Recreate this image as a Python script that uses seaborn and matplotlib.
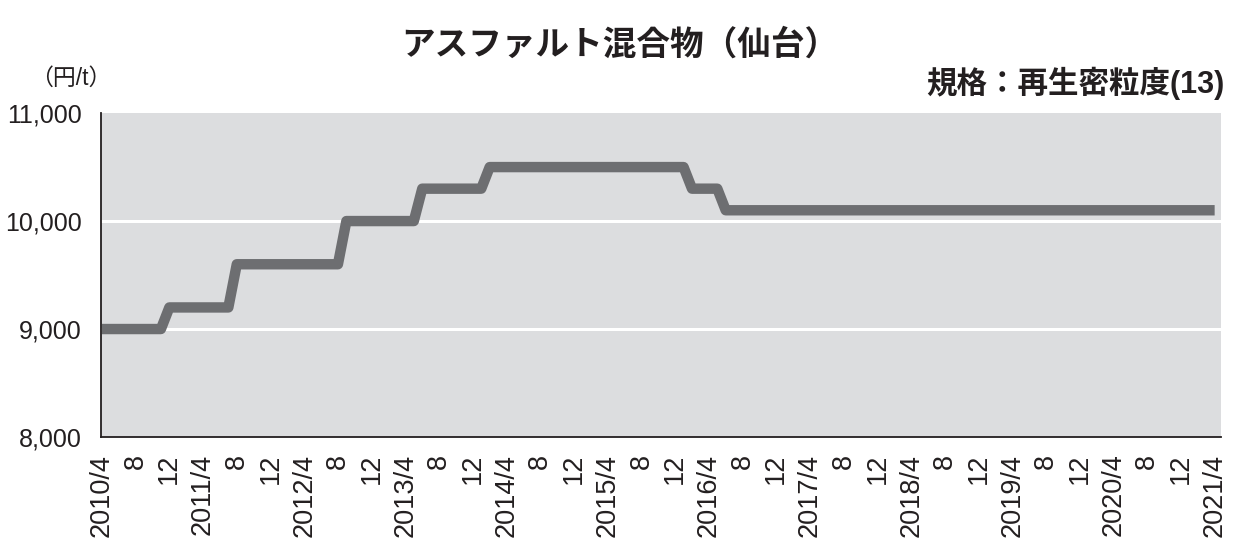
import pandas as pd
import matplotlib
matplotlib.use("Agg")
import matplotlib.pyplot as plt
import seaborn as sns

# Price levels (円/t) and the month each level starts
level_start = ["2010-04", "2010-12", "2011-08", "2012-09", "2013-06",
               "2014-02", "2016-02", "2016-06"]
level_price = [9000, 9200, 9600, 10000, 10300, 10500, 10300, 10100]
last_month = "2021-04"

title = "アスファルト混合物（仙台）"
spec = "規格：再生密粒度(13)"
unit = "（円/t）"
y_ticks = [8000, 9000, 10000, 11000]

# monthly series built from the levels
months = pd.date_range(level_start[0], last_month, freq="MS")
starts = pd.to_datetime(level_start)
price = [level_price[(starts <= m).sum() - 1] for m in months]
df = pd.DataFrame({"month": months, "price": price})
df["idx"] = range(len(df))

tick_idx = df["idx"][df["month"].dt.month.isin([4, 8, 12])]
tick_lab = [f"{m.year}/{m.month}" if m.month == 4 else str(m.month)
            for m in df["month"][tick_idx]]

sns.set_theme(style="white")
plt.rcParams["font.family"] = ["Liberation Sans", "Noto Sans CJK JP"]

fig = plt.figure(figsize=(12.37, 5.49), dpi=100)
ax = fig.add_axes([0.0817, 0.204, 0.905, 0.590])
ax.set_facecolor("#dcdddf")

sns.lineplot(data=df, x="idx", y="price", ax=ax, color="#6d6e71",
             linewidth=7.5, solid_capstyle="butt", solid_joinstyle="round")

ax.set_xlim(-0.1, 132.7)
ax.set_ylim(8000, 11000)
ax.set_yticks(y_ticks)
ax.set_yticklabels([f"{v:,}" for v in y_ticks])
ax.set_xticks(tick_idx)
ax.set_xticklabels(tick_lab, rotation=90)
ax.set_xlabel("")
ax.set_ylabel("")

for v in y_ticks[1:3]:
    ax.axhline(v, color="white", linewidth=2.2, zorder=1)

for s in ["top", "right"]:
    ax.spines[s].set_visible(False)
for s in ["left", "bottom"]:
    ax.spines[s].set_color("#231f20")
    ax.spines[s].set_linewidth(1.3)

ax.tick_params(axis="both", direction="in", length=5, width=1.1,
               colors="#231f20")
ax.tick_params(axis="x", pad=12, labelsize=19.5)
ax.tick_params(axis="y", pad=14, labelsize=18)

fig.text(0.501, 0.918, title, ha="center", va="center", fontsize=24.2,
         fontweight="bold", color="#231f20")
fig.text(0.990, 0.848, spec, ha="right", va="center", fontsize=22,
         fontweight="bold", color="#231f20")
fig.text(0.024, 0.858, unit, ha="left", va="center", fontsize=16.5,
         color="#231f20")

fig.savefig("out.png", dpi=100)
